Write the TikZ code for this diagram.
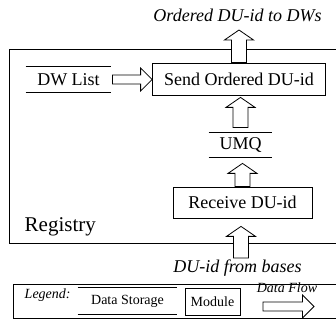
\documentclass[tikz,border=0pt]{standalone}
\usepackage{fontspec}
\setmainfont{Liberation Serif}
\usetikzlibrary{calc}

\begin{document}
\begin{tikzpicture}[x=1pt, y=1pt, line width=0.8pt,
  font=\fontsize{18}{20}\selectfont,
  module/.style={draw, inner sep=0pt},
  storage/.style={inner sep=0pt},
  small/.style={font=\fontsize{14}{16}\selectfont},
  flowup/.style 2 args={draw, fill=white, to path={let \p1=(\tikztostart), \p2=(\tikztotarget) in
    (\x1-7.5pt,\y1+#1) -- (\x1-7.5pt,\y2-#2-10pt) -- (\x1-14.5pt,\y2-#2-10pt) -- (\x1,\y2-#2)
    -- (\x1+14.5pt,\y2-#2-10pt) -- (\x1+7.5pt,\y2-#2-10pt) -- (\x1+7.5pt,\y1+#1) -- cycle}},
  flowright/.style={draw, fill=white, to path={let \p1=(\tikztostart), \p2=(\tikztotarget) in
    (\x1,\y1-4.5pt) -- (\x2-11.5pt,\y1-4.5pt) -- (\x2-11.5pt,\y1-11.5pt) -- (\x2,\y1)
    -- (\x2-11.5pt,\y1+11.5pt) -- (\x2-11.5pt,\y1+4.5pt) -- (\x1,\y1+4.5pt) -- cycle}}]
  \useasboundingbox (0,0) rectangle (336,320);
  \clip (0,0) rectangle (336,320);

  %% registry
  \draw (9,77) rectangle (345,271);
  \node[anchor=base west, font=\fontsize{21}{24}\selectfont] (regname) at (21,88) {Registry};

  %% modules and storage
  \node[module, minimum width=173pt, minimum height=32pt] (send) at (239,241) {Send Ordered DU-id};
  \node[module, minimum width=139pt, minimum height=31pt] (recv) at (242.5,117.5) {Receive DU-id};
  \node[storage, minimum width=85pt, minimum height=25pt] (dwlist) at (68.5,240.5) {DW List};
  \node[storage, minimum width=63pt, minimum height=24pt] (umq) at (240.5,175) {UMQ};
  \draw (dwlist.north west) -- (dwlist.north east) (dwlist.south west) -- (dwlist.south east);
  \draw (umq.north west) -- (umq.north east) (umq.south west) -- (umq.south east);

  %% in and out
  \node[anchor=base] (outtext) at (237.5,298.5) {\itshape Ordered DU-id to DWs};
  \node[anchor=base] (intext) at (237.5,47.5) {\itshape DU-id from bases};
  \coordinate (outtip) at (239,290);
  \coordinate (infoot) at (241,62);

  %% flows
  \draw[flowup={0pt}{0pt}] (send.north) to (outtip);
  \draw[flowup={5pt}{2pt}] (umq.north) to (send.south);
  \draw[flowup={0pt}{6pt}] (recv.north) to (umq.south);
  \draw[flowup={0pt}{8pt}] (infoot) to (recv.south);
  \draw[flowright] ($(dwlist.east)+(1,0)$) to (send.west);

  %% legend
  \draw (13,2) rectangle (345,36);
  \node[anchor=base west, small] (lgtext) at (21,21) {\itshape Legend:};
  \node[storage, small, minimum width=99pt, minimum height=26pt] (lgstore) at (127.5,19) {Data Storage};
  \draw (lgstore.north west) -- (lgstore.north east) (lgstore.south west) -- (lgstore.south east);
  \node[module, small, minimum width=55pt, minimum height=27pt] (lgmod) at (212.5,18.5) {Module};
  \coordinate (lgfrom) at (263,13.5);
  \coordinate (lgto) at (314,13.5);
  \draw[flowright] (lgfrom) to (lgto);
  \node[anchor=base, small] (lgflow) at (287,27) {\itshape Data Flow};
\end{tikzpicture}
\end{document}
